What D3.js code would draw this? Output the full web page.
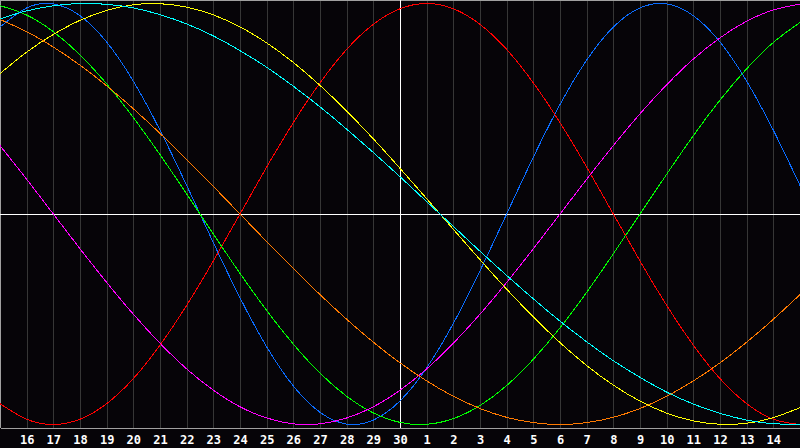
<!DOCTYPE html>
<html>
<head>
<meta charset="utf-8">
<script src="https://cdn.jsdelivr.net/npm/d3@7"></script>
<style>
  html, body { margin: 0; padding: 0; background: #060408; }
  svg { display: block; }
</style>
</head>
<body>
<svg id="chart"></svg>
<script>
// day labels, one per day from the left edge (index 0) to the right edge (index 30)
const days = [15, 16, 17, 18, 19, 20, 21, 22, 23, 24, 25, 26, 27, 28, 29, 30,
              1, 2, 3, 4, 5, 6, 7, 8, 9, 10, 11, 12, 13, 14, 15];
const todayIndex = 15;

// daily values (-1 .. 1)
const physical = [0.888, 0.979, 0.998, 0.942, 0.817, 0.631, 0.398, 0.136, -0.136, -0.398,
  -0.631, -0.817, -0.942, -0.998, -0.979, -0.888, -0.731, -0.520, -0.270, 0,
  0.270, 0.520, 0.731, 0.888, 0.979, 0.998, 0.942, 0.817, 0.631, 0.398, 0.136];
const emotional = [-0.901, -0.975, -1, -0.975, -0.901, -0.782, -0.623, -0.434, -0.223, 0,
  0.223, 0.434, 0.623, 0.782, 0.901, 0.975, 1, 0.975, 0.901, 0.782,
  0.623, 0.434, 0.223, 0, -0.223, -0.434, -0.623, -0.782, -0.901, -0.975, -1];
const intellectual = [0.990, 0.945, 0.866, 0.756, 0.618, 0.458, 0.282, 0.095, -0.095, -0.282,
  -0.458, -0.618, -0.756, -0.866, -0.945, -0.990, -0.999, -0.972, -0.910, -0.815,
  -0.690, -0.541, -0.372, -0.189, 0, 0.189, 0.372, 0.541, 0.690, 0.815, 0.910];
const intuitive = [0.325, 0.165, 0, -0.165, -0.325, -0.476, -0.614, -0.736, -0.837, -0.916,
  -0.969, -0.997, -0.997, -0.969, -0.916, -0.837, -0.736, -0.614, -0.476, -0.325,
  -0.165, 0, 0.165, 0.325, 0.476, 0.614, 0.736, 0.837, 0.916, 0.969, 0.997];
const aesthetic = [0.667, 0.769, 0.853, 0.920, 0.967, 0.994, 0.999, 0.983, 0.946, 0.889,
  0.813, 0.720, 0.611, 0.489, 0.357, 0.217, 0.073, -0.073, -0.217, -0.357,
  -0.489, -0.611, -0.720, -0.813, -0.889, -0.946, -0.983, -0.999, -0.994, -0.967, -0.920];
const awareness = [0.924, 0.866, 0.793, 0.707, 0.609, 0.5, 0.383, 0.259, 0.131, 0,
  -0.131, -0.259, -0.383, -0.5, -0.609, -0.707, -0.793, -0.866, -0.924, -0.966,
  -0.991, -1, -0.991, -0.966, -0.924, -0.866, -0.793, -0.707, -0.609, -0.5, -0.383];
const spiritual = [0.927, 0.965, 0.989, 1.000, 0.996, 0.979, 0.947, 0.903, 0.846, 0.776,
  0.697, 0.607, 0.509, 0.403, 0.292, 0.177, 0.059, -0.059, -0.177, -0.292,
  -0.403, -0.509, -0.607, -0.697, -0.776, -0.846, -0.903, -0.947, -0.979, -0.996, -1.000];

const series = [physical, emotional, intellectual, intuitive, aesthetic, awareness, spiritual];
const colors = ["#0a6cff", "#ff0000", "#00ff00", "#ff00ff", "#ffff00", "#ff7a00", "#00ffff"];

function main() {
    const width = 800, height = 448;
    const plotBottom = 428;

    const svg = d3.select("svg#chart")
        .attr("width", width)
        .attr("height", height);

    svg.append("rect")
        .attr("width", width)
        .attr("height", height)
        .attr("fill", "#060408");

    const x = d3.scaleLinear().domain([0, days.length - 1]).range([0, width]);
    const y = d3.scaleLinear().domain([-1, 1]).range([424.5, 3.5]);

    // day grid + labels
    const axis = d3.axisBottom(x)
        .tickValues(d3.range(1, days.length - 1))
        .tickFormat(i => days[i])
        .tickSizeInner(-plotBottom)
        .tickSizeOuter(0)
        .tickPadding(7);

    const g = svg.append("g")
        .attr("transform", "translate(0," + plotBottom + ")")
        .call(axis);
    g.select(".domain")
        .attr("stroke", "#a0a0a0")
        .attr("shape-rendering", "crispEdges");
    g.selectAll(".tick line")
        .attr("stroke", "#363636")
        .attr("shape-rendering", "crispEdges");
    g.selectAll(".tick text")
        .attr("fill", "#ffffff")
        .attr("font-family", "DejaVu Sans Mono, monospace")
        .attr("font-weight", "bold")
        .attr("font-size", 12);

    // frame on top and left
    svg.append("line")
        .attr("x1", 0.5).attr("x2", 0.5).attr("y1", 0).attr("y2", plotBottom)
        .attr("stroke", "#a0a0a0");
    svg.append("line")
        .attr("x1", 0).attr("x2", width).attr("y1", 0.5).attr("y2", 0.5)
        .attr("stroke", "#a0a0a0");

    // zero line and today marker
    svg.append("line")
        .attr("x1", 0).attr("x2", width)
        .attr("y1", Math.round(y(0)) + 0.5).attr("y2", Math.round(y(0)) + 0.5)
        .attr("stroke", "#ffffff");
    svg.append("line")
        .attr("x1", Math.round(x(todayIndex)) + 0.5).attr("x2", Math.round(x(todayIndex)) + 0.5)
        .attr("y1", 0).attr("y2", plotBottom)
        .attr("stroke", "#ffffff");

    // cycles
    const line = d3.line()
        .x((d, i) => x(i))
        .y(d => y(d))
        .curve(d3.curveNatural);

    const clip = svg.append("clipPath").attr("id", "plotClip")
        .append("rect").attr("x", 0).attr("y", 0).attr("width", width).attr("height", plotBottom);

    svg.append("g")
        .attr("clip-path", "url(#plotClip)")
        .selectAll("path")
        .data(series)
        .join("path")
        .attr("d", line)
        .attr("fill", "none")
        .attr("stroke", (d, i) => colors[i])
        .attr("stroke-width", 1)
        .attr("shape-rendering", "crispEdges");
}

main()
</script>
</body>
</html>
